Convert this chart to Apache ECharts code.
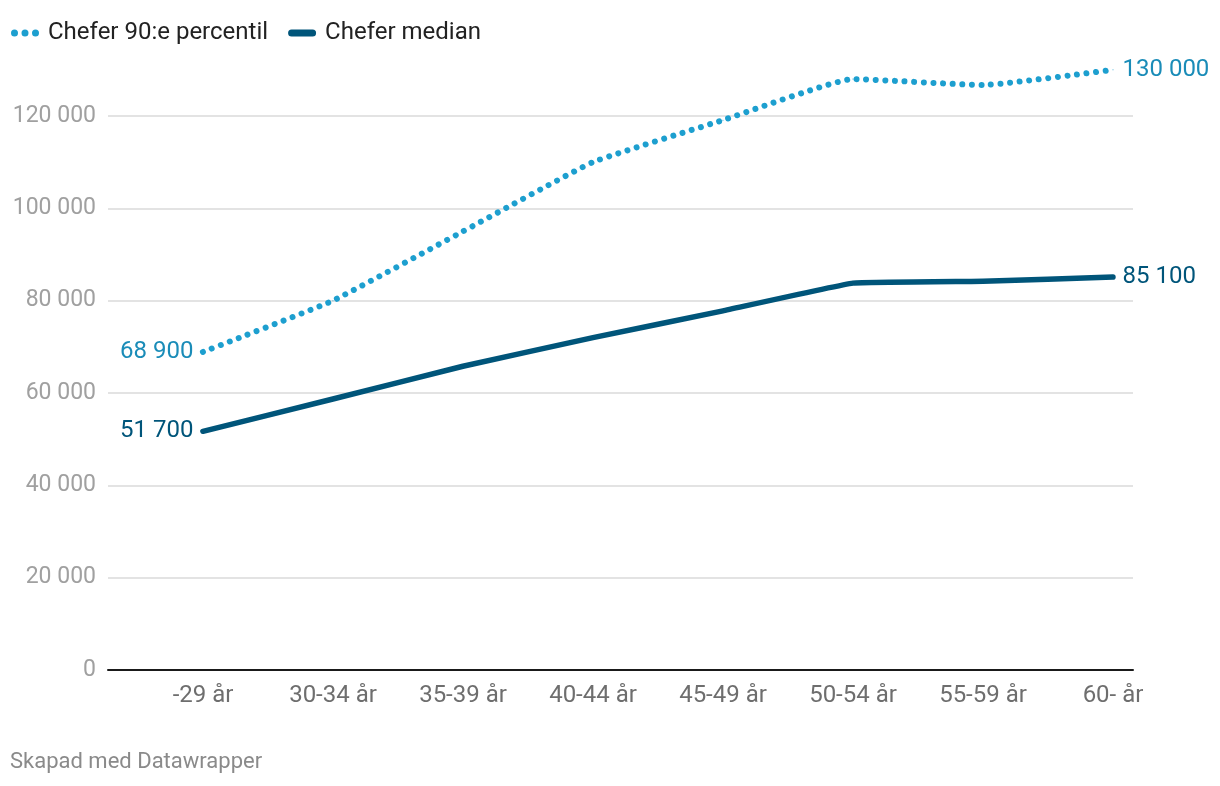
<!DOCTYPE html>
<html>
<head>
<meta charset="utf-8">
<script src="https://cdn.jsdelivr.net/npm/echarts@6/dist/echarts.min.js"></script>
<style>
html,body{margin:0;padding:0;background:#fff;}
#c{width:1220px;height:786px;}
</style>
</head>
<body>
<div id="c"></div>
<script>
var categories = ["-29 år", "30-34 år", "35-39 år", "40-44 år", "45-49 år", "50-54 år", "55-59 år", "60- år"];
var p90Values = [68900, 80000, 95000, 110000, 119100, 128000, 126700, 130000];
var medianValues = [51700, 58700, 65800, 72000, 77800, 83800, 84200, 85100];
var yTicks = [0, 20000, 40000, 60000, 80000, 100000, 120000];
var seriesNames = ["Chefer 90:e percentil", "Chefer median"];

var C90 = "#1d9fcf", C90L = "#1a8cb8", CMED = "#00557a";
var FS = 23, FL = 24;
function fmt(v){ return String(v).replace(/\B(?=(\d{3})+(?!\d))/g, " "); }

function build(vals, lcol){
  var n = vals.length;
  return vals.map(function(v, i){
    var d = {value: [i, v]};
    var show = (i === 0 || i === n - 1);
    d.label = {show: show, position: i === 0 ? "left" : "right", distance: 9, color: lcol, fontSize: FL, fontFamily: "Roboto",
               formatter: function(p){ return fmt(p.value[1]); }};
    return d;
  });
}

var chart = echarts.init(document.getElementById("c"), null, {renderer: "canvas"});
chart.setOption({
  animation: false,
  textStyle: {fontFamily: "Roboto"},
  legend: {
    left: 6, top: 16, itemGap: 20, itemWidth: 28, itemHeight: 7,
    textStyle: {fontSize: FL, color: "#222", fontFamily: "Roboto", padding: [0,0,0,4]},
    data: [
      {name: seriesNames[0], icon: "path://M0,3.5a3.5,3.5 0 1,0 7,0a3.5,3.5 0 1,0 -7,0M10.5,3.5a3.5,3.5 0 1,0 7,0a3.5,3.5 0 1,0 -7,0M21,3.5a3.5,3.5 0 1,0 7,0a3.5,3.5 0 1,0 -7,0Z", itemStyle: {color: C90, opacity: 1, borderWidth: 0}},
      {name: seriesNames[1], icon: "path://M3.5,0L24.5,0A3.5,3.5 0 0,1 24.5,7L3.5,7A3.5,3.5 0 0,1 3.5,0Z", itemStyle: {color: CMED, opacity: 1, borderWidth: 0}}
    ]
  },
  grid: [
    {left: 108, right: 87, top: 116, bottom: 116},
    {left: 138, right: 42, top: 116, bottom: 116}
  ],
  xAxis: [
    {type: "value", gridIndex: 0, min: -0.73, max: 7.154, show: true,
     axisLabel: {show: false}, axisTick: {show: false}, splitLine: {show: false},
     axisLine: {show: true, onZero: false, lineStyle: {color: "#1a1a1a", width: 2}}},
    {type: "category", gridIndex: 1, data: categories, boundaryGap: true,
     axisLine: {show: false}, axisTick: {show: false}, splitLine: {show: false},
     axisLabel: {margin: 14, fontSize: FL, color: "#6e6e6e", fontFamily: "Roboto"}}
  ],
  yAxis: [
    {type: "value", gridIndex: 0, min: yTicks[0], max: yTicks[yTicks.length-1], interval: 20000,
     axisLine: {show: false}, axisTick: {show: false},
     axisLabel: {margin: 12, fontSize: FS, color: "#a0a0a0", fontFamily: "Roboto", formatter: function(v){ return fmt(v); }},
     splitLine: {show: true, lineStyle: {color: "#e3e3e3", width: 2}}},
    {type: "value", gridIndex: 1, show: false, min: 0, max: 120000}
  ],
  series: [
    {name: seriesNames[0], type: "line", xAxisIndex: 0, yAxisIndex: 0, clip: false,
     data: build(p90Values, C90L), showSymbol: true, symbol: "circle", symbolSize: 1,
     smooth: 0.12,
     lineStyle: {color: C90, width: 6, type: [0.01, 9.6], cap: "round", join: "round"},
     itemStyle: {color: C90}},
    {name: seriesNames[1], type: "line", xAxisIndex: 0, yAxisIndex: 0, clip: false,
     data: build(medianValues, CMED), showSymbol: true, symbol: "circle", symbolSize: 1,
     smooth: 0.08,
     lineStyle: {color: CMED, width: 5.5, cap: "round", join: "round"},
     itemStyle: {color: CMED}}
  ],
  graphic: [
    {type: "text", left: 10, top: 751, style: {text: "Skapad med Datawrapper", fontSize: 22, fill: "#8a8a8a", fontFamily: "Roboto"}}
  ]
});
</script>
</body>
</html>
